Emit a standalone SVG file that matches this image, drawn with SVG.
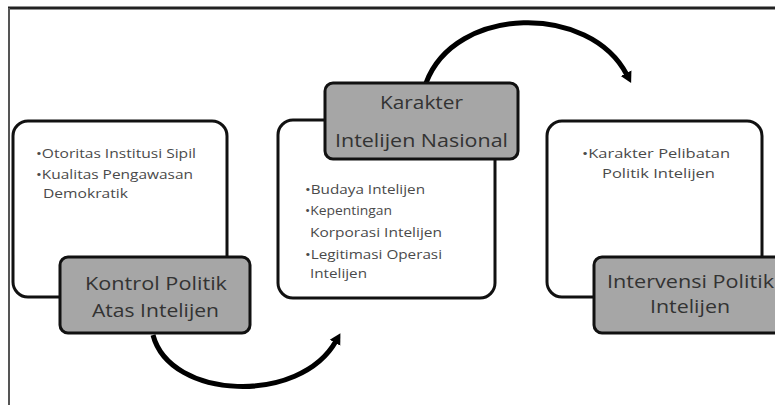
<svg xmlns="http://www.w3.org/2000/svg" width="775" height="405" viewBox="0 0 775 405">
<defs>
<style>
.frame{fill:#ffffff;stroke:#111;stroke-width:3}
.head{fill:#a6a6a6;stroke:#111;stroke-width:3}
.ht{font-family:"Open Sans","Liberation Sans",sans-serif;font-size:18px;fill:#333}
.bt{font-family:"Open Sans","Liberation Sans",sans-serif;font-size:12px;fill:#4a4a4a}
.arc{fill:none;stroke:#000;stroke-width:5}
</style>
<marker id="ah" markerUnits="userSpaceOnUse" markerWidth="13" markerHeight="13" viewBox="0 0 13 13" refX="2" refY="6.5" orient="auto">
<path d="M0,0.5 L11,6.5 L0,12.5 Z" fill="#000"/>
</marker>
</defs>
<rect x="0" y="0" width="775" height="405" fill="#ffffff"/>
<line x1="8" y1="8" x2="775" y2="8" stroke="#222" stroke-width="3"/>
<line x1="9" y1="8" x2="9" y2="405" stroke="#555" stroke-width="2"/>
<g id="connectors">
<path class="arc" d="M426,83 C455,5 590,3 627,75" marker-end="url(#ah)"/>
<path class="arc" d="M153,335 C170,400 300,405 336,341" marker-end="url(#ah)"/>
</g>
<g id="node-kontrol">
<rect class="frame" x="13" y="121" width="214" height="176" rx="15"/>
<text class="bt" x="36" y="158" textLength="160" lengthAdjust="spacingAndGlyphs">•Otoritas Institusi Sipil</text>
<text class="bt" x="36" y="179" textLength="157" lengthAdjust="spacingAndGlyphs">•Kualitas Pengawasan</text>
<text class="bt" x="43" y="198" textLength="85" lengthAdjust="spacingAndGlyphs">Demokratik</text>
<rect class="head" x="60" y="257" width="190" height="76" rx="8"/>
<text class="ht" x="85" y="290" textLength="142" lengthAdjust="spacingAndGlyphs">Kontrol Politik</text>
<text class="ht" x="92" y="317" textLength="127" lengthAdjust="spacingAndGlyphs">Atas Intelijen</text>
</g>
<g id="node-karakter">
<rect class="frame" x="278" y="120" width="217" height="178" rx="15"/>
<text class="bt" x="305" y="194" textLength="120" lengthAdjust="spacingAndGlyphs">•Budaya Intelijen</text>
<text class="bt" x="305" y="215" textLength="87" lengthAdjust="spacingAndGlyphs">•Kepentingan</text>
<text class="bt" x="310" y="237" textLength="132" lengthAdjust="spacingAndGlyphs">Korporasi Intelijen</text>
<text class="bt" x="305" y="259" textLength="137" lengthAdjust="spacingAndGlyphs">•Legitimasi Operasi</text>
<text class="bt" x="310" y="278" textLength="57" lengthAdjust="spacingAndGlyphs">Intelijen</text>
<rect class="head" x="325" y="83" width="193" height="76" rx="8"/>
<text class="ht" x="380" y="109" textLength="83" lengthAdjust="spacingAndGlyphs">Karakter</text>
<text class="ht" x="335" y="147" textLength="173" lengthAdjust="spacingAndGlyphs">Intelijen Nasional</text>
</g>
<g id="node-intervensi">
<rect class="frame" x="547" y="121" width="215" height="176" rx="15"/>
<text class="bt" x="582" y="158" textLength="148" lengthAdjust="spacingAndGlyphs">•Karakter Pelibatan</text>
<text class="bt" x="602" y="178" textLength="113" lengthAdjust="spacingAndGlyphs">Politik Intelijen</text>
<rect class="head" x="594" y="257" width="192" height="76" rx="8"/>
<text class="ht" x="607" y="288" textLength="167" lengthAdjust="spacingAndGlyphs">Intervensi Politik</text>
<text class="ht" x="650" y="313" textLength="80" lengthAdjust="spacingAndGlyphs">Intelijen</text>
</g>
</svg>
